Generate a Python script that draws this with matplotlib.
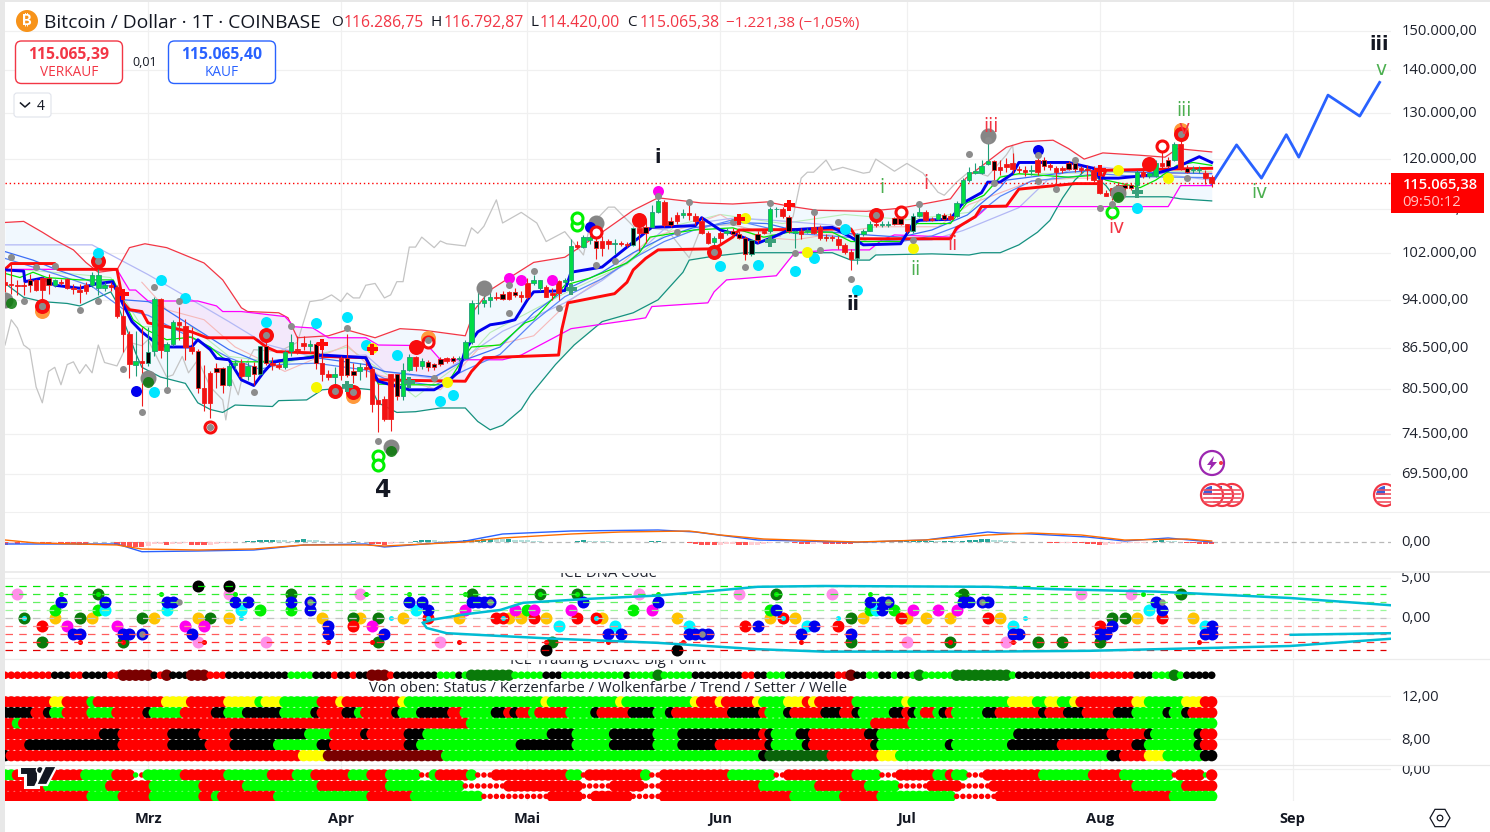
import matplotlib
matplotlib.use('Agg')
import matplotlib.pyplot as plt
import numpy as np
from matplotlib.patches import Circle, FancyBboxPatch, Polygon, Rectangle, RegularPolygon, Wedge
from matplotlib.transforms import ScaledTranslation

plt.rcParams['font.family'] = ['Open Sans', 'DejaVu Sans']

W, H = 1490, 832
LEFT, RIGHT = 5, 1391

# Daily candles in thousand USD, one value per bar
opens = [96.9,96.6,96.5,96.4,97.2,97.2,97.6,97.6,96.5,96.9,
         97.5,96.0,95.6,96.4,96.5,96.0,96.0,96.5,96.1,91.4,
         88.5,84.0,84.5,84.2,86.0,94.1,86.0,87.1,90.4,89.8,
         86.6,86.0,80.6,82.8,83.5,83.5,81.1,83.9,84.3,82.4,
         83.8,82.6,86.7,84.3,84.0,83.7,86.0,86.3,87.2,86.8,
         87.0,84.3,82.6,82.2,85.0,85.0,83.1,83.1,83.7,83.4,
         79.0,79.1,82.6,82.6,79.6,83.2,85.1,83.8,84.4,84.1,
         84.8,84.9,85.0,84.8,85.0,87.3,93.4,93.5,93.9,94.5,
         94.9,95.3,95.3,94.7,96.7,96.7,96.0,96.1,95.1,97.1,
         97.0,97.2,103.4,103.1,104.3,104.1,104.1,104.1,103.5,103.7,
         103.6,103.3,106.4,106.7,106.7,109.5,111.4,107.7,108.9,108.9,
         109.2,108.8,107.7,105.6,103.9,105.6,105.6,106.0,105.3,104.7,
         101.8,105.4,105.9,105.9,110.0,110.1,108.6,105.6,106.0,106.0,
         106.6,106.7,104.9,104.9,104.5,103.3,102.2,101.0,105.3,106.0,
         107.3,107.0,107.0,108.3,108.3,107.2,105.9,108.7,109.4,108.2,
         108.1,108.9,108.8,108.7,111.1,115.7,117.2,117.1,118.9,119.6,
         118.3,119.0,119.1,118.0,117.7,117.6,119.9,119.8,118.7,118.2,
         118.1,119.2,119.2,118.1,118.0,117.8,115.8,113.2,114.1,114.8,
         114.8,114.8,114.8,117.4,116.5,116.6,119.1,119.9,119.9,123.1,
         118.2,117.7,117.7,117.2,116.287]
highs = [98.9,100.1,97.2,96.9,98.3,97.5,97.8,98.3,97.5,97.5,
         97.6,96.6,96.6,96.9,98.6,99.2,96.9,96.9,96.4,95.0,
         89.1,89.1,89.6,89.6,94.4,94.3,87.3,90.7,92.8,90.9,
         89.6,86.3,83.9,83.0,84.2,83.7,84.2,84.6,84.8,84.4,
         84.4,86.8,87.6,85.1,84.4,86.1,88.6,88.3,88.3,87.6,
         87.3,87.6,83.2,83.7,85.3,88.6,84.2,84.2,84.4,83.7,
         81.3,79.5,82.7,82.7,84.2,85.6,85.3,84.9,84.6,84.2,
         85.1,85.1,85.3,85.3,87.6,93.9,95.5,94.7,95.5,95.2,
         95.4,95.4,96.0,95.4,97.6,98.2,97.3,96.5,96.0,97.3,
         97.6,104.4,104.1,105.1,105.1,105.0,105.0,104.4,104.4,104.1,
         103.9,106.6,107.0,108.0,110.8,112.1,111.8,108.6,109.5,110.1,
         110.8,109.2,108.6,105.9,105.0,105.9,106.4,106.4,105.9,105.0,
         104.5,105.9,106.3,110.5,110.5,110.5,108.9,106.1,106.4,106.4,
         109.8,107.0,105.3,105.1,105.0,103.8,102.6,105.6,106.3,107.7,
         108.0,107.7,107.8,108.5,108.9,107.3,109.2,110.8,109.8,108.6,
         109.2,109.2,109.2,111.5,116.1,118.4,119.1,119.8,124.1,119.9,
         119.8,120.2,121.2,118.6,118.6,118.8,120.8,120.5,119.1,118.5,
         118.5,119.6,120.5,118.6,118.8,118.5,118.6,113.8,114.1,115.4,
         115.2,115.2,117.8,117.8,117.4,119.8,122.6,120.5,123.7,125.5,
         118.8,118.6,118.5,117.8,116.793]
lows = [95.2,95.0,94.7,94.7,95.2,95.5,93.9,95.0,96.1,96.4,
        95.8,95.0,93.4,95.0,96.1,94.7,95.5,95.5,91.1,85.8,
        82.1,82.3,78.2,83.8,85.3,85.0,80.4,86.8,87.6,84.6,
        85.6,79.9,77.5,76.6,80.6,80.0,80.9,83.4,82.1,81.8,
        81.1,82.5,83.9,83.2,83.4,83.4,85.3,85.6,86.1,85.8,
        83.4,81.6,81.8,80.2,81.8,82.2,81.3,81.8,82.2,77.3,
        74.7,76.2,74.8,79.0,79.0,83.0,83.0,83.4,83.1,83.2,
        83.8,84.2,84.3,84.5,84.9,87.1,91.7,92.8,92.8,94.0,
        93.9,94.0,94.4,93.6,94.1,96.5,95.4,94.4,93.9,93.9,
        96.5,97.1,102.6,102.9,103.5,100.9,101.5,102.6,101.8,103.2,
        103.1,103.2,102.3,103.8,106.4,109.2,106.7,106.7,107.3,108.3,
        108.0,107.0,105.3,103.5,103.2,103.5,105.1,105.0,104.4,100.7,
        101.5,103.8,105.3,105.6,108.6,108.3,105.6,102.8,104.4,105.6,
        105.3,104.2,104.1,104.1,102.6,101.8,99.0,100.1,105.0,105.9,
        106.7,106.7,106.7,107.0,107.0,105.6,105.6,108.6,107.7,107.7,
        107.9,107.9,107.9,108.5,110.8,115.4,117.0,117.0,118.8,115.7,
        116.8,117.4,117.1,117.2,116.6,116.8,116.8,117.8,117.8,114.8,
        117.1,117.8,117.4,117.2,115.8,115.4,112.9,112.5,111.7,112.6,
        113.5,113.8,112.9,116.1,116.1,116.3,118.1,118.1,119.6,117.8,
        117.1,117.1,117.1,115.0,114.42]
closes = [96.4,96.5,96.3,96.3,96.4,95.6,95.6,96.5,97.3,96.7,
          96.0,95.7,95.3,95.5,98.2,98.2,96.5,96.1,91.4,88.5,
          84.1,84.5,84.2,85.8,94.1,86.1,87.1,90.4,89.9,86.6,
          86.0,80.6,78.6,78.6,82.9,81.1,83.8,84.3,82.3,83.8,
          82.6,86.7,84.3,83.9,83.7,85.9,87.3,86.1,86.8,87.1,
          84.3,82.6,82.2,82.6,82.5,82.5,82.5,83.7,83.4,78.4,
          78.4,76.4,76.4,79.6,83.2,85.1,83.8,84.5,83.7,83.6,
          84.1,84.5,84.5,85.0,87.3,93.4,93.5,93.9,94.4,94.3,
          94.1,94.1,94.7,94.5,94.4,97.2,97.2,94.5,94.7,95.1,
          97.2,103.2,103.1,104.9,104.9,102.9,102.9,103.5,103.7,103.5,
          103.4,106.4,105.6,105.6,109.5,111.5,107.0,107.0,107.7,109.2,
          108.9,107.7,105.6,103.8,104.7,104.7,105.9,105.4,104.7,101.8,
          104.3,104.3,105.6,110.1,110.1,108.7,105.9,106.0,105.3,106.1,
          105.6,104.6,104.6,104.6,103.3,102.2,100.9,105.3,106.0,107.3,
          107.0,107.3,107.3,107.2,107.2,105.9,108.7,109.5,108.0,108.0,
          109.0,108.2,108.1,111.1,115.7,117.3,117.5,118.6,119.6,117.7,
          117.8,118.3,118.0,117.7,117.4,117.8,117.3,118.6,118.3,117.4,
          117.8,118.0,118.0,117.8,117.7,115.8,113.1,112.6,112.7,114.1,
          114.1,114.1,117.4,116.5,117.1,119.1,118.5,118.5,123.1,118.1,
          117.3,118.0,118.0,116.1,115.065]
black_bars = [4,7,23,31,34,35,40,41,42,50,55,56,63,68,69,70,72,80,82,95,101,103,107,117,118,
              119,120,121,126,132,137,143,144,146,151,159,167,171,172,179,180,181,187,190]

last_price = 115.065

# Overlay lines: bar position and value in thousand USD
upper_x = [0,3,6,8,11,13,15,18,20,22.5,26,32,35,38,39,44,45.5,47,52,55,59.5,63.5,67,74,75.5,78,81,85,90,96,101,105,112,117,122.5,126,130.5,138.5,144,152,154.5,160,161,164,168.5,171,173.5,176.5,182.5,186.5,188.5,194]
upper_y = [107.5,107.7,105.7,104.3,102.5,100.3,98.6,99.0,102.9,103.6,102.9,100.2,97.3,92.7,92.1,91.9,91.1,88.0,88.3,89.2,88.0,89.4,89.2,88.3,92.4,95.6,97.6,100.3,101.2,105.7,109.8,112.2,111.2,111.0,111.4,110.6,109.8,109.6,110.2,112.0,116.1,121.5,122.5,123.7,124.0,122.2,120.0,121.3,120.8,120.4,122.2,121.5]
lower_x = [0,3,6,10,12,15,17,18,21,22,25,29,31,33,35,37,43,44,48.5,51,55.5,59,60,63,66,70,74,76,78,80,83,84.5,88.5,91.5,96,101,105,109,110,114,119,126,133,136,139,140,149,155,157,160,163,166,168,170,172,174,176,177,178,180,187,189,194]
lower_y = [96.7,94.4,93.7,93.4,93.0,94.4,95.3,93.5,85.7,83.6,82.2,81.3,78.6,77.7,77.3,78.3,78.1,78.9,79.0,80.4,80.7,80.4,78.6,77.3,77.4,77.9,77.9,76.1,75.0,75.6,77.7,79.7,84.0,86.9,90.5,91.9,94.0,98.6,100.7,101.4,102.0,102.0,102.0,100.7,100.7,101.6,101.8,101.6,102.0,102.0,103.4,105.7,107.9,112.1,115.7,118.1,115.7,114.6,113.0,112.4,112.4,112.0,111.6]
magenta_x = [0,18,19,20,21,23,31,34,35,38,45,46.5,49.5,52,58,60,68,70,80,83,91,101,103,104,113,114,116,124,126,127,133,139,141,143,152,154,156,157,158,187,189,194]
magenta_y = [99.1,99.1,97.3,95.6,95.6,93.8,93.8,93.0,92.1,92.1,91.3,89.7,89.5,88.0,88.0,86.9,86.8,84.7,84.7,85.4,89.4,90.8,91.1,92.9,93.5,95.3,97.3,98.0,100.7,102.0,102.5,102.5,104.3,105.2,104.8,107.3,108.4,109.4,110.5,110.5,114.6,114.6]
red_x = [0,1,8,8.5,18,19,20,22,23,27,30,32.5,40,42,43.7,50,51,58,59.5,74,75,77,89,89.5,90.5,98,100,101,103,105,114,117,118,136,137,152,153,156,157,161,163,172,176,177,194]
red_y = [99.1,100.1,100.1,99.1,99.1,93.5,92.4,92.1,90.3,89.5,88.9,88.0,88.0,86.6,85.9,85.7,85.2,85.0,81.8,81.6,83.0,85.0,85.4,89.2,93.5,95.0,96.9,99.0,101.0,102.5,102.7,104.8,106.1,106.3,104.5,104.5,106.5,108.6,110.5,110.6,113.9,115.0,115.0,117.7,118.1]
blue_x = [0,3,3.2,6,8,12,15,17.3,19,20.4,22,24,26,30,31,33,34,36,38,40,41.5,43,45,49,51,58,60,65,69,71,73,74,76,78,80,82,84,85,90,91,96,100,104,111,112,115,117,119,121,123.5,126,133,136,138,144,146,147,152,154,157,158,160,162,163,171,173,175,176,179,184,188,192,194]
blue_y = [99.0,98.8,97.0,97.6,96.4,95.9,96.7,97.0,93.2,90.5,88.9,87.4,86.6,86.6,87.7,86.2,84.9,84.7,81.8,81.0,82.8,84.3,84.7,85.0,85.4,85.0,81.6,80.4,80.4,81.4,83.0,86.2,88.9,90.0,90.3,90.8,94.0,95.3,95.5,98.6,99.5,103.0,106.6,106.9,108.4,106.1,105.5,104.6,103.7,104.8,106.1,106.6,104.8,103.4,103.6,107.3,107.9,108.1,111.2,113.2,115.3,115.3,117.0,119.3,119.3,118.7,118.1,116.1,116.1,116.7,118.1,120.5,119.3]
lime_x = [0,2.4,4.5,6.7,12,17.4,19,20.6,22.8,26,30,33,35,36.7,44.7,50,52.8,58,60,65,71,74,75,79.6,83.6,85,90,94,100,102,103.7,110.7,117,122,126,133,136,144,146.6,152,154.6,157.4,160,163,171,175.7,177,182.5,185,188.4,191,194]
lime_y = [98.4,97.7,98.6,97.7,97.3,97.3,94.0,90.8,89.2,87.7,88.1,86.6,85.0,84.4,84.4,85.4,85.1,85.1,81.2,81.1,81.1,85.4,86.6,86.9,90.3,90.8,96.4,97.6,100.2,102.0,104.8,106.1,106.5,104.8,105.7,105.7,104.0,104.0,107.3,107.3,111.2,112.7,116.3,117.0,116.3,116.7,115.7,114.2,115.7,118.7,119.3,118.7]
thin_blue_x = [0,4.5,8.4,14,17.4,19,23,25.4,31,36,41,44,50,58,61,69,74,79.6,85,90,96,101,106,110.6,117,122.5,126.7,133,138.6,144,149,154.7,160,161,171,175.7,182.5,194]
thin_blue_y = [102.2,100.7,99.0,97.0,96.1,94.0,93.7,92.7,89.2,86.2,84.3,84.7,85.0,84.0,83.0,82.2,84.7,86.6,91.9,95.6,98.6,102.0,104.8,106.5,107.5,107.3,106.1,105.7,105.2,104.8,106.1,108.9,114.2,115.7,117.3,117.7,117.3,117.0]
thin_blue2_x = [0,4.5,8.4,14,19,23,31,36,41,44,50,58,61,69,74,79.6,85,90,96,101,106,110.6,117,122.5,126.7,133,138.6,144,149,154.7,160,165,171,175.7,182.5,194]
thin_blue2_y = [101.0,99.5,98.2,96.2,92.5,91.5,87.5,85.0,83.3,84.0,84.2,83.2,82.0,81.0,83.2,85.5,90.5,94.5,97.5,101.0,104.0,106.0,108.0,106.5,105.5,105.0,104.5,104.0,105.0,107.5,112.5,115.5,116.3,117.0,116.4,116.2]
lavender_x = [0,14,23,30,36,42,50,58,61,69,80,90,96,101,106,112,117,122.5,133,138.6,149,154,163,167.6,172,176.7,194]
lavender_y = [103.4,103.4,98.2,94.0,90.5,87.0,85.0,85.4,83.0,82.0,89.0,93.5,97.2,101.2,106.3,107.5,108.3,108.0,107.0,104.0,104.3,106.0,110.3,115.7,118.3,118.3,115.7]
pink_x = [22,26,32,37,45,55,60,70,76,85,91,98,104,110,115,121,127,140,150,155,165,172,179,186,194]
pink_y = [96.9,92.4,90.8,86.6,83.0,86.9,82.5,80.4,86.2,88.3,94.0,99.0,104.8,106.8,109.0,104.8,104.3,106.7,106.7,110.9,115.5,116.1,116.1,117.0,117.2]
pale_green_x = [3,10,17,22,30,36,45,55,62,66,74,78,91,100,108,115,125,135,145,155,160,165,194]
pale_green_y = [99.0,98.4,97.7,89.7,89.7,85.2,84.2,86.6,82.2,79.4,84.7,88.8,95.6,100.0,107.0,109.0,107.3,109.0,108.0,109.4,116.5,117.0,117.5]
gray_x = [0,1,2,3,4,5,6,7,8,9,10,11,12,13,14,15,16,18,19,20,22,23,26,27,28.5,29.5,31,33,35,35.5,36.5,37.5,38.5,40,44,47,49,51,52.5,54,55,56,57,58,59.5,61,62,63,64,65,66,67,69,70,71,74,75,76,77,79,80,83,85.5,87,90,93,94,97,98,101,106.5,110,112,117,124.6,126.7,128,129,130,132,133,134.7,138,139,140,143,145,147.6,150,151,153,154.7,156.6,158,161,162,162.4]
gray_y = [86.9,90.8,89.5,86.9,86.2,80.8,78.6,83.0,83.6,81.1,84.0,84.4,82.7,84.0,82.8,86.9,84.3,83.8,85.7,87.3,86.8,87.7,82.2,82.5,85.2,82.8,84.7,80.8,79.0,76.3,81.8,79.7,83.6,86.2,85.9,87.3,93.7,94.0,94.8,93.7,95.1,94.3,94.3,96.4,96.7,94.3,94.8,97.0,97.0,103.0,103.0,104.8,102.9,104.1,103.6,103.2,106.5,105.5,106.8,111.8,107.4,109.4,107.4,104.0,105.8,101.6,106.8,110.4,110.4,106.8,106.1,101.1,106.8,107.1,104.9,108.6,116.1,117.3,117.3,119.8,117.7,118.3,117.1,117.3,120.0,117.5,119.1,117.1,113.3,112.7,115.3,117.1,117.1,116.5,120.9,122.9,117.7]
forecast_x = [194,198,202,206,208,212.7,217.8,221]
forecast_y = [115.0,123.0,116.1,125.2,120.4,134.1,129.3,137.1]

# Signal dots on the price chart
cyan_x = [15,25,29,24,42,50,55,58,63,70,72,115,121,127,130,135,137,182]
cyan_y = [102.0,97.3,94.3,80.1,90.5,90.3,91.3,86.9,85.4,78.9,79.7,99.7,99.8,98.8,101.1,106.3,95.6,110.2]
pink_dot_x = [81,83,88,105]
pink_dot_y = [97.6,97.3,97.3,113.5]
yellow_x = [50,59,71,119,129,146,179,187]
yellow_y = [80.8,86.5,81.5,108.3,102.1,102.9,117.7,116.1]
gray_dot_x = [1,5,8,3,6,12,15,19,22,24,26,28,40,46,55,60,69,81,81,85,89,95,98,105,108,110,117,119,123,127,130,131,134,136,146,147,155,159,166,166,169,172,176,178,190,15,42,53,56,68,33,114,140,189,158,6]
gray_dot_y = [101.2,99.5,99.6,93.8,93.0,92.4,93.8,83.3,77.4,96.1,80.4,93.8,80.1,89.8,89.5,73.5,82.1,96.4,91.9,98.8,92.7,99.8,100.5,112.6,105.8,111.4,107.5,99.5,111.2,102.0,109.4,102.5,107.5,97.4,104.3,111.0,121.0,115.1,120.9,115.5,114.0,119.9,110.2,111.0,116.1,100.5,88.4,80.3,80.1,87.6,75.4,102.1,108.9,125.3,124.0,93.0]
halo_x = [0,23,62,77,95,158,179]
halo_y = [93.9,82.1,72.8,95.9,107.4,124.9,113.1]
dark_green_x = [1,23,62,179]
dark_green_y = [93.5,81.5,72.3,112.4]
orange_x = [6,56,68,189]
orange_y = [92.2,79.6,88.0,126.2]
red_dot_x = [6,15,42,53,56,66,102,114,140,184,189]
red_dot_y = [93.0,100.5,88.4,80.3,80.1,86.6,107.9,102.1,108.9,118.9,125.3]
red_ring_x = [33,68,95,144,186]
red_ring_y = [75.4,87.4,105.8,109.4,122.8]
green_ring_x = [60,60,92,92,178]
green_ring_y = [71.7,70.5,107.0,108.3,109.4]
blue_dot_x = [21,94,166]
blue_dot_y = [80.3,106.6,121.9]
red_plus_x = [19,51,59,118,126,176]
red_plus_y = [94.9,87.0,86.3,108.1,110.8,117.7]
teal_plus_x = [55,65,91,123,182]
teal_plus_y = [80.9,81.5,95.8,104.1,113.3]

wave_labels = ['i','ii','4','iii','v','iii','i','i','ii','ii','iv','iii','v','iv']
wave_x = [105,136.3,60.8,221,221.3,158.5,141,148,152.3,146.3,178.6,189.6,189.6,201.7]
wave_y = [120.4,93.3,67.6,146.3,140.3,127.0,114.3,115.0,103.4,99.0,106.5,130.6,126.5,113.2]
wave_colors = ['#131722','#131722','#131722','#131722','#4caf50','#f23645','#4caf50','#f23645','#f23645','#4caf50','#f23645','#4caf50','#f23645','#4caf50']

price_ticks = [150,140,130,120,110,102,94,86.5,80.5,74.5,69.5]
price_labels = ['150.000,00','140.000,00','130.000,00','120.000,00','110.000,00','102.000,00','94.000,00','86.500,00','80.500,00','74.500,00','69.500,00']

month_pos = [23,54,84,115,145,176,207]
month_names = ['Mrz','Apr','Mai','Jun','Jul','Aug','Sep']

# MACD pane
macd_hist = [-750,-500,-500,-250,-250,-200,-200,-200,-150,-300,
             -500,-600,-650,-700,-100,100,125,100,-800,-1000,
             -1200,-1250,-1300,-900,-600,-400,-750,-600,-500,-300,
             -700,-800,-850,-700,-500,-300,-200,-100,100,250,
             250,400,500,500,450,400,350,600,650,600,
             400,300,100,100,100,120,130,100,80,-500,
             -600,-700,-500,-300,-100,100,300,400,420,400,
             300,250,300,350,400,420,450,700,750,700,
             650,650,550,500,400,350,250,100,50,30,
             -30,20,350,400,300,250,200,150,80,50,
             -30,-60,40,60,250,300,50,30,-30,-40,
             -300,-450,-650,-700,-750,-650,-600,-550,-700,-800,
             -750,-650,-500,-300,-100,-50,-30,-350,-400,-420,
             -400,-350,-450,-500,-520,-550,-600,-100,-50,30,
             40,100,150,130,150,170,180,250,280,300,
             280,300,320,250,330,400,600,750,800,600,
             500,300,150,100,-50,-100,-120,-60,-180,-250,
             -200,-150,-200,-250,-400,-550,-700,-650,-600,-500,
             -300,-250,-200,-150,100,250,400,350,200,100,
             -300,-350,-400,-450,-550]
macd_x = [0,18,22,31,40,48,58,61,74,80,91,105,111,121,137,148,158,160,165,174,180,187,194]
macd_y = [-500,-500,-2425,-2250,-2000,-750,-500,-1250,250,2000,2750,3000,2500,500,-75,500,2500,2250,2000,1250,250,1000,0]
signal_x = [0,5,18,22,31,40,48,58,61,74,80,91,99,110,115,122,137,148,158,165,173,180,190,194]
signal_y = [500,-250,-750,-1750,-2000,-1750,-750,-750,-1000,0,1000,2000,2500,2750,1750,750,0,500,1750,2250,1750,500,750,250]

# ICE DNA Code pane: bar and level of every dot
dna_gold_x = [8,14,24,31,36,51,57,64,73,81,83,87,96,108,123,127,138,145,148,152,160,182,191]
dna_gold_y = [0]*23
dna_pink_x = [2,31,36,42,57,70,102,118,133,145,161,173,181]
dna_pink_y = [3,-3,3,-3,3,-3,3,3,3,-3,-3,3,3]
dna_green_x = [3,6,12,15,19,22,33,46,56,60,60,75,86,88,92,124,136,136,152,154,166,170,176,178,180,189]
dna_green_y = [0,-3,0,3,-3,0,0,3,0,-3,0,3,3,-3,3,3,0,-3,-3,3,-3,-3,-3,0,0,3]
dna_lime_x = [8,15,41,46,84,101,123,139,143]
dna_lime_y = [1]*9
dna_lime_small_x = [9,25,37,58,65,74,105,139,153,183,15,86,92,124]
dna_lime_small_y = [3]*14
dna_blue_x = [9,11,12,16,19,20,22,26,27,30,37,39,46,49,49,52,52,61,65,67,68,75,76,77,78,93,97,99,105,110,111,112,113,121,124,128,130,136,139,141,141,142,154,155,157,158,162,163,176,177,178,185,186,193,194,194]
dna_blue_y = [2,-2,-2,2,-2,-2,-2,2,2,-2,2,2,2,1,2,-1,-2,-2,2,2,1,2,2,2,2,2,-2,-2,2,-2,-2,-2,-2,-1,1,-2,-1,-2,2,2,1,2,2,2,2,2,-2,-2,-2,-2,-1,2,1,-2,-1,-2]
dna_magenta_x = [10,18,29,32,59,74,82,85,91,104,146,150,153]
dna_magenta_y = [-1,-1,-1,-1,-1,1,1,1,1,1,1,1,1]
dna_red_x = [6,56,79,85,92,119,134,144,158,176,186,68,80,95,125]
dna_red_y = [-1,-1,0,0,0,-1,-1,0,0,-1,0,0,0,0,0]
dna_red_small_x = [12,32,52,59,73,87,97,109,128,162,192,19,152]
dna_red_small_y = [-3]*13
dna_cyan_x = [16,26,38,66,89,98,110,129,140,162,184,193]
dna_cyan_y = [1,1,1,1,-1,-1,-1,-1,1,-1,1,-1]
dna_cyan_small_x = [38,62,134,164,3,68,80,95,125]
dna_cyan_small_y = [0]*9
dna_black_x = [31,36,87,108]
dna_black_y = [4,4,-4,-4]
dna_gray_x = [22,49,78,112,142,157,28,186]
dna_gray_y = [-2,2,2,-2,2,2,2,2]
dna_levels = [4,3,2,1,0,-1,-2,-3,-4]
level_colors = ['#00e600','#33ee33','#66f066','#99f799','#c4c4c4','#ff9090','#ff5c5c','#ff3030','#e00000']
band_top_x = [67.2,68.8,74.3,79.6,83.3,94,104.8,115.4,121,131.5,158.4,169,185,206.6,222.7]
band_top_y = [-0.6,-0.2,0.5,1.0,1.9,2.4,2.8,3.5,3.9,4.0,3.9,3.6,3.3,2.5,1.6]
band_low_x = [67.2,67.8,71,79.6,88.7,104.8,121,131.5,158.4,174.4,196,206.6,222.7]
band_low_y = [-0.6,-1.25,-1.9,-2.25,-2.6,-3.1,-3.9,-4.2,-4.2,-4.1,-3.7,-3.5,-2.6]
band_mid_x = [206.7,222.7]
band_mid_y = [-2.1,-1.9]

# Status rows, run lengths per bar. r red, g lime, k black, y yellow, D dark red, G dark green, e deep green, s/t small
big_point = "r8 k3 r2 k4 r2 D5 k1 r1 D1 k3 D3 r3 k10 g4 k3 r1 k2 r1 k2 D3 r1 k7 g3 k1 g1 G7 g5 k3 g10 k1 g4 G1 g5 k8 r2 k2 g3 k8 r2 D1 k2 g2 k2 g1 k2 g1 G1 g5 G9 g1 k12 r7 k3 g3 G1 g1 k5"
status_row = "r6 r2 y2 r4 g1 r1 r8 r2 y4 r6 y5 g1 y3 g6 r3 y1 r3 r6 y1 g1 g21 y1 g11 y1 g11 y1 r3 y1 r5 y1 g4 y3 r1 y1 r6 g8 y1 g16 y4 g2 y2 g2 y1 r9 y2 g6 y3 r2"
candle_row = "k5 r2 k1 g2 r4 g4 r5 k1 g5 r3 r2 k2 g3 k6 g5 k1 r4 k2 g1 r5 k1 g3 k5 r2 g5 k2 r1 k1 r2 g1 r5 g4 k1 r5 k4 g2 k1 r9 k5 r1 g3 k1 r5 k3 r2 k1 g5 k2 r1 k1 g1 r2 g1 k1 r1 g5 k2 r4 r3 k1 r3 k3 r5 k3 g4 g1 k1 g2 k1 r4"
cloud_row = "r2 g1 r72 g65 r6 g49"
trend_row = "r16 k3 r8 k5 r5 k12 g4 r5 k1 r6 k3 g20 k4 g6 k7 g4 k13 r1 k1 g4 k2 r9 k2 g22 k15 r6 k1 g7 k1 r2"
setter_row = "r4 k15 r8 k6 r4 k7 g7 k2 r12 k2 g16 k9 g6 k7 g4 k6 r8 k1 g5 k1 r10 k1 g11 k1 g9 k8 r12 k2 g8 k1 r2"
wave_row = "k1 r47 y4 D19 g51 k1 e10 r8 y3 g34 k2 r4 y3 g6 k2"
lower_row1 = "g2 r8 r3 g5 r3 t1 s1 g6 r7 g7 r4 g3 r6 g3 r3 g5 s2 g1 r5 g1 s3 r12 g2 s1 r9 g1 s2 r11 g7 s2 r11 g4 s3 r6 g2 r1 g2 s3 r9 g8 r5 g8 s1 r4 t1 r1"
lower_row2 = "r5 r2 g10 r7 g8 r7 g12 r11 g12 s7 r12 s5 r5 s3 r16 g9 r8 g5 s5 r5 s5 r23 g8 r5"
lower_row3 = "r14 g5 r5 g8 r2 g1 r9 g15 r7 g11 s11 r5 s2 r6 s5 r21 g8 r6 g12 s7 r28 g7"
upper_levels = [13.93,11.45,10.45,9.45,8.45,7.45,6.45]
lower_levels = [-0.56,-1.58,-2.55]

row_colors = {'r':'#ff0000','g':'#00ff00','k':'#000000','y':'#ffff00','D':'#7a0000','G':'#0a7a0a','e':'#0a640a','s':'#ff0000','t':'#00ff00'}


def expand(runs):
    out = []
    for run in runs.split():
        out += [run[0]] * int(run[1:])
    return out


def px(d):
    # scatter size for a dot of d pixels
    return (d * 0.72) ** 2


def pane(top, bottom, ylim):
    ax = fig.add_axes([LEFT / W, 1 - bottom / H, (RIGHT - LEFT) / W, (bottom - top) / H])
    for s in ax.spines.values():
        s.set_visible(False)
    ax.set_xlim(0, (RIGHT - LEFT) / 6.22)
    ax.set_ylim(*ylim)
    ax.set_xticks(month_pos)
    ax.grid(True, color='#f0f0f0', lw=0.9)
    ax.set_axisbelow(True)
    ax.yaxis.tick_right()
    ax.tick_params(length=0, labelbottom=False, labelsize=10.6, labelcolor='#1e222d', pad=7.5)
    ax.patch.set_alpha(0)
    return ax


def lift_labels(ax):
    # price labels sit a pixel and a half above their grid line
    lift = ScaledTranslation(0, 1.5 / 100, fig.dpi_scale_trans)
    for lab in ax.get_yticklabels():
        lab.set_transform(lab.get_transform() + lift)


def draw_rows(ax, runs, level, sizes):
    # drawn bar by bar so that a later dot lies over the one before
    codes = expand(runs)
    xs_row = np.arange(len(codes))
    flat = [c for c in codes]
    ax.scatter(xs_row, [level] * len(codes), s=[px(sizes.get(c, 11.4)) for c in flat],
               c=[row_colors[c] for c in flat], lw=0, zorder=3)


fig = plt.figure(figsize=(W / 100, H / 100), dpi=100, facecolor='white')
xs = np.arange(len(closes))
grid = np.arange(0, 194.5, 0.5)

# --- price pane ---
ax = pane(1, 512, (65.03, 157.9))
ax.set_yscale('log')
ax.set_ylim(65.03, 157.9)
ax.minorticks_off()
ax.set_yticks(price_ticks)
ax.set_yticklabels(price_labels)
ax.tick_params(axis='y', which='both', length=0)
lift_labels(ax)

up_i = np.interp(grid, upper_x, upper_y)
lo_i = np.interp(grid, lower_x, lower_y)
mg_i = np.interp(grid, magenta_x, magenta_y)
rd_i = np.interp(grid, red_x, red_y)
ax.fill_between(grid, lo_i, up_i, color='#f1f8fe', lw=0, zorder=1)
ax.fill_between(grid, rd_i, mg_i, where=(grid >= 18) & (grid <= 74) & (mg_i > rd_i), color='#f3e8fb', lw=0, zorder=1.1)
ax.fill_between(grid, mg_i, rd_i, where=(grid >= 89) & (grid <= 190), color='#f0faf0', lw=0, zorder=1.2)
ax.fill_between(grid, lo_i, rd_i, where=(grid >= 89) & (grid <= 140) & (rd_i > lo_i), color='#e6f5ee', lw=0, zorder=1.3)

ax.plot(gray_x, gray_y, color='#c4c4c4', lw=0.9, zorder=2)
ax.plot(pale_green_x, pale_green_y, color='#b8eeb8', lw=0.8, zorder=2)
ax.plot(pink_x, pink_y, color='#f6b9b9', lw=0.8, zorder=2)
ax.plot(lavender_x, lavender_y, color='#b3b8f5', lw=0.9, zorder=2)
ax.plot(upper_x, upper_y, color='#f23645', lw=0.9, zorder=2)
ax.plot(lower_x, lower_y, color='#15917f', lw=0.9, zorder=2)
ax.plot(magenta_x, magenta_y, color='#ff00ff', lw=0.9, zorder=2.1)
ax.plot(thin_blue_x, thin_blue_y, color='#3d6ff5', lw=0.9, zorder=2.1)
ax.plot(thin_blue2_x, thin_blue2_y, color='#5a86f7', lw=0.9, zorder=2.1)
ax.plot(lime_x, lime_y, color='#00e600', lw=0.9, zorder=2.2)
ax.plot(red_x, red_y, color='#ff0a0a', lw=2.1, zorder=2.3, solid_joinstyle='round')
ax.plot(blue_x, blue_y, color='#0000ee', lw=2.1, zorder=2.4, solid_joinstyle='round')
ax.plot(forecast_x, forecast_y, color='#2962ff', lw=2.0, zorder=3)
ax.axhline(last_price, color='#ff0000', lw=1.0, ls=(0, (1, 2)), zorder=2.5)

for i in xs:
    up = closes[i] >= opens[i]
    edge = '#1f9d78' if up else '#f01c1c'
    if i in black_bars:
        body = '#000000'
    else:
        body = '#00dd44' if up else '#f31212'
    ax.vlines(i, lows[i], highs[i], color=edge, lw=0.8, zorder=4)
    ax.bar(i, abs(closes[i] - opens[i]), bottom=min(opens[i], closes[i]), width=0.72,
           color=body, edgecolor=edge, linewidth=0.6, zorder=4.1)

ax.scatter(halo_x, halo_y, s=px(16), c='#868686', lw=0, zorder=5)
ax.scatter(orange_x, orange_y, s=px(15), c='#ff9a3c', lw=0, zorder=5.1)
ax.scatter(red_dot_x, red_dot_y, s=px(15), c='#f80d0d', lw=0, zorder=5.2)
ax.scatter(dark_green_x, dark_green_y, s=px(11), c='#0a7a0a', lw=0, alpha=0.85, zorder=5.3)
ax.scatter(cyan_x, cyan_y, s=px(11), c='#00e5ff', lw=0, zorder=5.4)
ax.scatter(pink_dot_x, pink_dot_y, s=px(11), c='#ff00ee', lw=0, zorder=5.4)
ax.scatter(yellow_x, yellow_y, s=px(11), c='#f7f700', lw=0, zorder=5.4)
ax.scatter(blue_dot_x, blue_dot_y, s=px(11), c='#0000ee', lw=0, zorder=5.4)
ax.scatter(red_ring_x, red_ring_y, s=px(11), facecolors='white', edgecolors='#f80d0d', linewidths=2.2, zorder=5.5)
ax.scatter(green_ring_x, green_ring_y, s=px(11), facecolors='white', edgecolors='#00f000', linewidths=2.2, zorder=5.5)
ax.scatter(gray_dot_x, gray_dot_y, s=px(7), c='#8c8c8c', lw=0, zorder=5.6)
ax.scatter(red_plus_x, red_plus_y, s=px(11), c='#ff0a0a', marker='P', lw=0, zorder=5.7)
ax.scatter(teal_plus_x, teal_plus_y, s=px(11), c='#3aa07a', marker='P', lw=0, zorder=5.7)

for t, x, y, c in zip(wave_labels, wave_x, wave_y, wave_colors):
    big = t == '4'
    ax.text(x, y, t, color=c, fontsize=17 if big else 13.5, fontweight='bold' if c == '#131722' else 'normal',
            ha='center', va='center', zorder=6, family=['DejaVu Sans'])

# --- MACD pane ---
ax2 = pane(512, 571, (-7250, 7500))
ax2.set_yticks([0])
ax2.set_yticklabels(['0,00'])
ax2.grid(False, axis='y')
lift_labels(ax2)
ax2.axhline(0, color='#b8b8b8', lw=0.9, ls=(0, (4, 3)), zorder=1)
hist_colors = []
for i, v in enumerate(macd_hist):
    prev = macd_hist[i - 1] if i else v
    if v >= 0:
        hist_colors.append('#26a69a' if v >= prev else '#b2dfdb')
    else:
        hist_colors.append('#ff5252' if v <= prev else '#ffcdd2')
ax2.bar(np.arange(len(macd_hist)), macd_hist, width=0.82, color=hist_colors, lw=0, zorder=2)
ax2.plot(macd_x, macd_y, color='#2962ff', lw=1.0, zorder=3)
ax2.plot(signal_x, signal_y, color='#ff6d00', lw=1.0, zorder=3.1)

# --- ICE DNA pane ---
ax3 = pane(573, 658, (-5.0, 5.625))
ax3.set_yticks([5, 0])
ax3.set_yticklabels(['5,00', '0,00'])
lift_labels(ax3)
big = 12
ax3.scatter(dna_gold_x, dna_gold_y, s=px(big), c='#ffc400', lw=0, zorder=3)
ax3.scatter(dna_pink_x, dna_pink_y, s=px(big), c='#ff90e8', lw=0, zorder=3)
ax3.scatter(dna_lime_x, dna_lime_y, s=px(big), c='#00f000', lw=0, zorder=3)
ax3.scatter(dna_cyan_x, dna_cyan_y, s=px(big), c='#00f6ff', lw=0, zorder=3)
ax3.scatter(dna_green_x, dna_green_y, s=px(big), c='#0a7a0a', lw=0, zorder=3.1)
ax3.scatter(dna_red_x, dna_red_y, s=px(big), c='#ff0000', lw=0, zorder=3.1)
ax3.scatter(dna_magenta_x, dna_magenta_y, s=px(big), c='#ff00ee', lw=0, zorder=3.2)
ax3.scatter(dna_blue_x, dna_blue_y, s=px(big), c='#0000ee', lw=0, zorder=3.3)
ax3.scatter(dna_black_x, dna_black_y, s=px(big), c='#000000', lw=0, zorder=3.3)
ax3.scatter(dna_red_small_x, dna_red_small_y, s=px(5), c='#ff0000', lw=0, zorder=3.4)
ax3.scatter(dna_lime_small_x, dna_lime_small_y, s=px(5), c='#00f000', lw=0, zorder=3.4)
ax3.scatter(dna_cyan_small_x, dna_cyan_small_y, s=px(5), c='#00f0ff', lw=0, zorder=3.4)
ax3.scatter(dna_gray_x, dna_gray_y, s=px(6.5), c='#8c8c8c', lw=0, zorder=3.4)
for lv, c in zip(dna_levels, level_colors):
    ax3.hlines(lv, 0, 222, color=c, lw=0.9, ls=(0, (6, 5)), zorder=3.5)
ax3.plot(band_top_x, band_top_y, color='#00bcd4', lw=1.8, zorder=4)
ax3.plot(band_low_x, band_low_y, color='#00bcd4', lw=1.8, zorder=4)
ax3.plot(band_mid_x, band_mid_y, color='#00bcd4', lw=1.8, zorder=4)
ax3.text(97, 5.6, 'ICE DNA Code', fontsize=10.7, ha='center', va='center', color='#1e222d', clip_on=True)

# --- status rows ---
ax4 = pane(659, 765, (5.58, 15.44))
ax4.set_yticks([12, 8])
ax4.set_yticklabels(['12,00', '8,00'])
rows = [big_point, status_row, candle_row, cloud_row, trend_row, setter_row, wave_row]
for n, (runs, lv) in enumerate(zip(rows, upper_levels)):
    sizes = {'r': 7.6, 'g': 7.6, 'k': 7.6, 'D': 11.4, 'G': 11.4} if n == 0 else {}
    draw_rows(ax4, runs, lv, sizes)
ax4.text(97, 15.3, 'ICE Trading Deluxe Big Point', fontsize=10.7, ha='center', va='center', color='#1e222d', clip_on=True)
ax4.text(97, 12.65, 'Von oben: Status / Kerzenfarbe / Wolkenfarbe / Trend / Setter / Welle', fontsize=10.75,
         ha='center', va='center', color='#1e222d')

# --- lower rows ---
ax5 = pane(765, 801, (-2.98, 0.37))
ax5.set_yticks([0])
ax5.set_yticklabels(['0,00'])
for runs, lv in zip([lower_row1, lower_row2, lower_row3], lower_levels):
    draw_rows(ax5, runs, lv, {'s': 5.5, 't': 5.5})
ax5.set_xticks(month_pos)
ax5.set_xticklabels(month_names)
ax5.tick_params(axis='x', labelbottom=True, labelsize=10.5, labelcolor='#131722', pad=8)
for lab in ax5.get_xticklabels():
    lab.set_fontweight('bold')

# --- chart furniture, in picture pixels ---
ui = fig.add_axes([0, 0, 1, 1], zorder=20)
ui.set_xlim(0, W)
ui.set_ylim(H, 0)
ui.axis('off')
ui.add_patch(Rectangle((0, 0), 5, H, color='#e8e8e8', lw=0))
ui.add_patch(Rectangle((0, 0), W, 1.5, color='#e8e8e8', lw=0))
ui.add_patch(Rectangle((5, 571), W, 2, color='#ececec', lw=0))
ui.add_patch(Rectangle((1392, 557), 98, 14, color='white', lw=0))
ui.add_patch(Rectangle((1392, 755), 98, 10, color='white', lw=0))
ui.plot([5, W], [511.5, 511.5], color='#f0f0f0', lw=0.8)
ui.plot([5, W], [658.5, 658.5], color='#ececec', lw=0.9)
ui.plot([5, W], [765, 765], color='#e8e8e8', lw=0.9)

ui.add_patch(Circle((27, 21), 11, color='#f7931a', lw=0))
ui.text(27, 21, '₿', color='white', fontsize=10.5, fontweight='bold', ha='center', va='center',
        family=['Inter', 'Roboto', 'Noto Sans', 'Lato', 'Liberation Sans', 'DejaVu Sans'])
ui.text(44, 23.5, 'Bitcoin / Dollar · 1T · COINBASE', fontsize=13.85, color='#131722', va='center')
for letter, lx, val, vx in [('O', 331, '116.286,75', 344), ('H', 431, '116.792,87', 444), ('L', 530, '114.420,00', 540), ('C', 627, '115.065,38', 640)]:
    ui.text(lx, 23, letter, fontsize=11, color='#131722', va='center')
    ui.text(vx, 23, val, fontsize=11.3, color='#f23645', va='center')
ui.text(726, 23, '−1.221,38 (−1,05%)', fontsize=11, color='#f23645', va='center')

for x0, c, top_t, low_t in [(15.5, '#f23645', '115.065,39', 'VERKAUF'), (168.5, '#2962ff', '115.065,40', 'KAUF')]:
    ui.add_patch(FancyBboxPatch((x0 + 6, 47), 95, 30.5, boxstyle='round,pad=6', lw=1.0, ec=c, fc='white', zorder=3))
    ui.text(x0 + 53.5, 55, top_t, fontsize=11.3, fontweight='bold', color=c, ha='center', va='center', zorder=4)
    ui.text(x0 + 53.5, 72, low_t, fontsize=9.8, color=c, ha='center', va='center', zorder=4)
ui.text(145, 62, '0,01', fontsize=9, color='#131722', ha='center', va='center')
ui.add_patch(FancyBboxPatch((17, 96), 31, 18, boxstyle='round,pad=3', lw=0.8, ec='#e0e3eb', fc='white'))
ui.plot([20.5, 25, 29.5], [103, 107, 103], color='#131722', lw=1.1)
ui.text(41, 106, '4', fontsize=10, color='#131722', ha='center', va='center')

ui.add_patch(Rectangle((1391, 173), 93, 40, color='#ff0000', lw=0))
ui.text(1440, 185, '115.065,38', color='white', fontsize=10.6, fontweight='semibold', ha='center', va='center')
ui.text(1432, 203, '09:50:12', color='#ffc4c4', fontsize=10.6, ha='center', va='center')

# event icons
ui.add_patch(Circle((1212, 463), 12, fc='white', ec='#9c27b0', lw=1.6))
ui.add_patch(Polygon([(1214, 456), (1207, 465), (1211, 465), (1209, 471), (1217, 462), (1212.5, 462)], color='#9c27b0', lw=0))
ui.add_patch(Circle((1221, 463), 2, color='#f23645', lw=0))
for fx in [1232, 1222, 1212, 1385]:
    ui.add_patch(Circle((fx, 495), 11, fc='white', ec='#f23645', lw=1.6))
    for sy in [490, 494, 498, 502]:
        ui.plot([fx - 8, fx + 8], [sy, sy], color='#f05060', lw=1.2)
    ui.add_patch(Wedge((fx, 495), 9, 180, 270, color='#3c5fd8', lw=0))
ui.add_patch(Rectangle((1391, 480), 99, 30, color='white', lw=0, zorder=3))

# TradingView mark
ui.add_patch(Polygon([(19, 766), (38, 766), (38, 787), (25, 787), (25, 775), (19, 775)], fc='#131722', ec='white', lw=2.2))
ui.add_patch(Circle((40, 770), 3.6, fc='#131722', ec='white', lw=1.0))
ui.add_patch(Polygon([(45, 766), (57, 766), (47, 785), (36, 785)], fc='#131722', ec='white', lw=1.6))

ui.add_patch(RegularPolygon((1440, 818), 6, radius=10, orientation=np.pi / 6, fc='white', ec='#131722', lw=0.9))
ui.add_patch(Circle((1440, 818), 2.8, fc='white', ec='#131722', lw=0.9))

fig.savefig('out.png', dpi=100)
